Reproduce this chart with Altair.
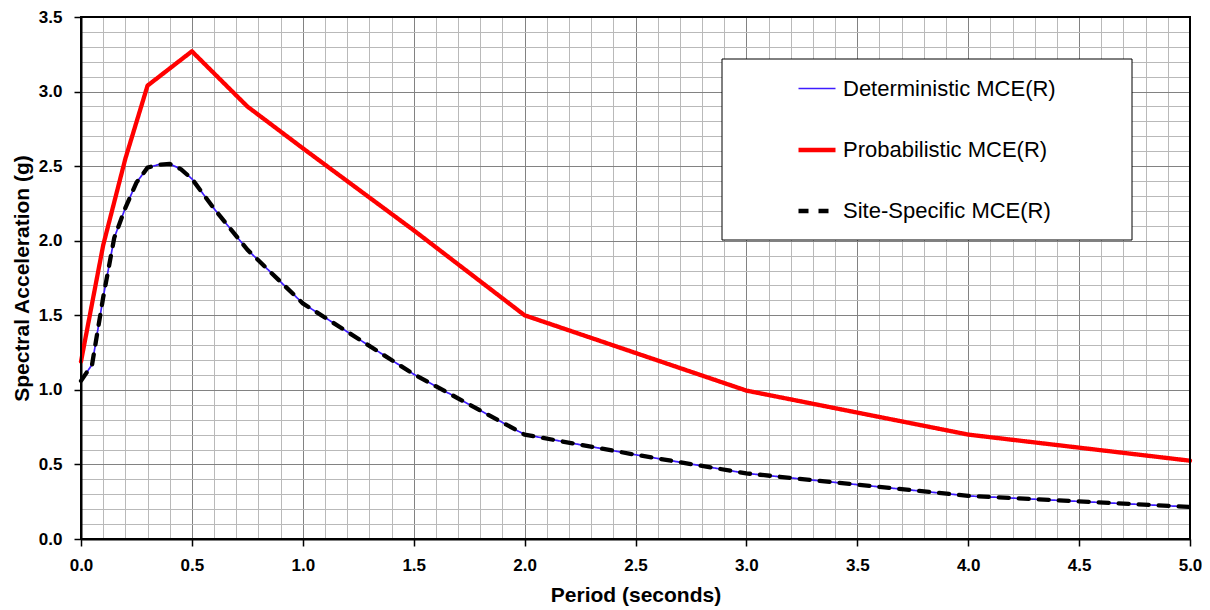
import altair as alt
import pandas as pd

# ---- data ----
series_names = ["Deterministic MCE(R)", "Probabilistic MCE(R)", "Site-Specific MCE(R)"]

period_det = [0.0, 0.05, 0.1, 0.15, 0.2, 0.25, 0.3, 0.35, 0.4, 0.45, 0.5, 0.6, 0.75, 1.0, 1.5, 2.0, 2.5, 3.0, 4.0, 5.0]
sa_det = [1.06, 1.17, 1.62, 2.02, 2.22, 2.39, 2.49, 2.51, 2.515, 2.48, 2.415, 2.215, 1.94, 1.58, 1.105, 0.70, 0.565, 0.44, 0.289, 0.215]

period_prob = [0.0, 0.1, 0.2, 0.3, 0.5, 0.75, 1.0, 1.5, 2.0, 3.0, 4.0, 5.0]
sa_prob = [1.19, 1.97, 2.55, 3.04, 3.27, 2.90, 2.62, 2.07, 1.50, 0.995, 0.70, 0.525]

period_site = [0.0, 0.05, 0.1, 0.15, 0.2, 0.25, 0.3, 0.35, 0.4, 0.45, 0.5, 0.6, 0.75, 1.0, 1.5, 2.0, 2.5, 3.0, 4.0, 5.0]
sa_site = [1.06, 1.17, 1.62, 2.02, 2.22, 2.39, 2.49, 2.51, 2.515, 2.48, 2.415, 2.215, 1.94, 1.58, 1.105, 0.70, 0.565, 0.44, 0.289, 0.215]

x_grid = [round(i * 0.1, 1) for i in range(51)]
y_grid = [round(i * 0.1, 1) for i in range(36)]

rows = []
for name, ps, vs in [(series_names[0], period_det, sa_det),
                     (series_names[1], period_prob, sa_prob),
                     (series_names[2], period_site, sa_site)]:
    for p, v in zip(ps, vs):
        rows.append({"series": name, "period": p, "sa": v})
df = pd.DataFrame(rows)

FONT = "Liberation Sans"
MAJOR = "round(datum.value*10) % 5 === 0"

def cond(a, b):
    return {"condition": {"test": MAJOR, "value": a}, "value": b}

x_axis = alt.Axis(
    values=x_grid, title="Period (seconds)",
    labelExpr=f"{MAJOR} ? format(datum.value, '.1f') : ''",
    labelFlush=False, labelOverlap=False,
    labelFont=FONT, labelFontSize=17, labelFontWeight="bold", labelColor="black",
    labelPadding=11,
    titleFont=FONT, titleFontSize=21, titleFontWeight="bold", titleColor="black",
    titlePadding=11,
    tickSize=7, tickWidth=1.5, tickColor=cond("black", "rgba(0,0,0,0)"),
    grid=True, gridColor=cond("#828282", "#b9b9b9"), gridWidth=1,
    domainColor="black", domainWidth=2,
)
y_axis = alt.Axis(
    values=y_grid, title="Spectral Acceleration (g)",
    labelExpr=f"{MAJOR} ? format(datum.value, '.1f') : ''",
    labelFlush=False, labelOverlap=False,
    labelFont=FONT, labelFontSize=17, labelFontWeight="bold", labelColor="black",
    labelPadding=12,
    titleFont=FONT, titleFontSize=21, titleFontWeight="bold", titleColor="black",
    titlePadding=6,
    tickSize=7, tickWidth=1.5, tickColor=cond("black", "rgba(0,0,0,0)"),
    grid=True, gridColor=cond("#828282", "#b9b9b9"), gridWidth=1,
    domainColor="black", domainWidth=2,
)

legend = alt.Legend(
    title=None, orient="none", legendX=715, legendY=52, direction="vertical",
    symbolType="stroke", symbolSize=1369, labelFont=FONT, labelFontSize=22,
    labelColor="black", labelOffset=5, rowPadding=29, padding=0, zindex=2,
    labelLimit=400,
)

enc = dict(
    x=alt.X("period:Q", scale=alt.Scale(domain=[0, 5], nice=False), axis=x_axis),
    y=alt.Y("sa:Q", scale=alt.Scale(domain=[0, 3.5], nice=False), axis=y_axis),
    color=alt.Color("series:N", scale=alt.Scale(domain=series_names,
                    range=["#3f1cff", "#ff0000", "#000000"]), legend=legend),
    strokeWidth=alt.StrokeWidth("series:N", scale=alt.Scale(type="ordinal", domain=series_names,
                    range=[1.7, 4.3, 4.3]), legend=legend),
    strokeDash=alt.StrokeDash("series:N", scale=alt.Scale(domain=series_names,
                    range=[[1, 0], [1, 0], [10, 10]]), legend=legend),
)

base = alt.Chart(df)
lines = [
    base.transform_filter(alt.datum.series == s).mark_line(strokeCap="round", strokeJoin="round").encode(**enc)
    for s in series_names
]

box_df = pd.DataFrame({"k": [0]})
legend_box = alt.Chart(box_df).mark_rect(fill="white", stroke="black", strokeWidth=1).encode(
    x=alt.value(641), x2=alt.value(1051), y=alt.value(42), y2=alt.value(223)
)
border = alt.Chart(box_df).mark_rect(fillOpacity=0, stroke="black", strokeWidth=2).encode(
    x=alt.value(0), x2=alt.value(1109), y=alt.value(0), y2=alt.value(522)
)

chart = alt.layer(legend_box, *lines, border).properties(
    width=1109, height=522,
    autosize=alt.AutoSizeParams(type="none"),
    padding={"left": 73, "top": 9, "right": 12, "bottom": 69},
    background="white",
).configure_view(stroke=None)

chart.save("out.html", embed_options={"renderer": "svg", "actions": False})
